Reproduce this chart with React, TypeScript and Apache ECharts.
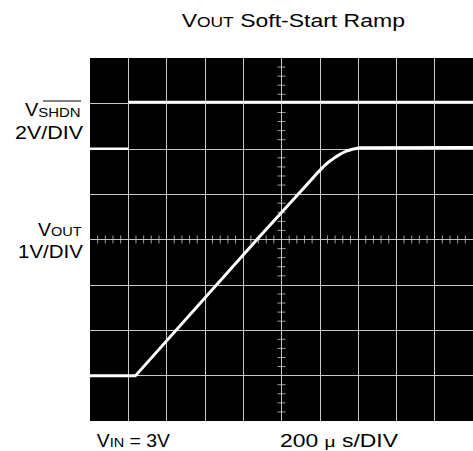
import React, { useEffect, useRef } from 'react';
import * as echarts from 'echarts';

// Oscilloscope screen in divisions: 10 horizontal (200 µs/DIV), 8 vertical
const X_MIN = -5;
const X_MAX = 5;
const Y_MIN = -4;
const Y_MAX = 4;

// VSHDN trace (2V/DIV), in divisions from screen centre ('-' = no vertical edge drawn)
const shdnX = [-5, -4, -4, -4, 5];
const shdnY: (number | string)[] = [2.0, 2.0, '-', 3.03, 3.03];

// VOUT trace (1V/DIV), in divisions from screen centre
const voutX = [-5, -3.81, -0.64, 0.79, 0.95, 1.1, 1.25, 1.4, 1.55, 1.7, 1.85, 2.05, 5.0];
const voutY = [-3.0, -3.0, 0, 1.33, 1.48, 1.61, 1.72, 1.81, 1.89, 1.95, 1.99, 2.02, 2.03];

const FONT = 'Liberation Sans';

function measure(text: string, fs: number): number {
  const c = document.createElement('canvas');
  const ctx = c.getContext('2d') as CanvasRenderingContext2D;
  ctx.font = `${fs}px "${FONT}"`;
  return ctx.measureText(text).width;
}

type Piece = { t: string; fs: number };

function label(pieces: Piece[], left: number, right: number, baseline: number): any {
  let cur = 0;
  const children: any[] = [];
  for (const p of pieces) {
    children.push({
      type: 'text',
      x: cur,
      y: -0.347 * p.fs,
      style: {
        text: p.t,
        fontSize: p.fs,
        fontFamily: FONT,
        fill: '#000',
        align: 'left',
        verticalAlign: 'middle',
        textAlign: 'left',
        textVerticalAlign: 'middle',
      },
    });
    cur += measure(p.t, p.fs);
  }
  return { type: 'group', x: left, y: baseline, scaleX: (right - left) / cur, children };
}

export default function App() {
  const ref = useRef<HTMLDivElement>(null);
  useEffect(() => {
    const chart = echarts.init(ref.current as HTMLDivElement, null, { renderer: 'svg' });

    const xTicks: number[][] = [];
    for (let k = X_MIN * 5; k <= X_MAX * 5; k++) if (k % 5 !== 0) xTicks.push([k / 5, 0]);
    const yTicks: number[][] = [];
    for (let k = Y_MIN * 5; k <= Y_MAX * 5; k++) if (k % 5 !== 0) yTicks.push([0, k / 5]);

    const gridColor = '#c8c8c8';

    chart.setOption({
      animation: false,
      backgroundColor: '#fff',
      grid: {
        left: 90,
        top: 58,
        right: 0,
        bottom: 30,
        show: true,
        backgroundColor: '#000',
        borderWidth: 0,
      },
      xAxis: {
        type: 'value',
        min: X_MIN,
        max: X_MAX,
        interval: 1,
        axisLine: { show: false },
        axisTick: { show: false },
        axisLabel: { show: false },
        splitLine: { show: true, showMinLine: false, showMaxLine: false, lineStyle: { color: gridColor, width: 1 } },
      },
      yAxis: {
        type: 'value',
        min: Y_MIN,
        max: Y_MAX,
        interval: 1,
        axisLine: { show: false },
        axisTick: { show: false },
        axisLabel: { show: false },
        splitLine: { show: true, showMinLine: false, showMaxLine: false, lineStyle: { color: gridColor, width: 1 } },
      },
      series: [
        {
          type: 'scatter',
          data: xTicks,
          symbol: 'rect',
          symbolSize: [1, 8],
          itemStyle: { color: gridColor },
          silent: true,
        },
        {
          type: 'scatter',
          data: yTicks,
          symbol: 'rect',
          symbolSize: [8, 1],
          itemStyle: { color: gridColor },
          silent: true,
        },
        {
          type: 'line',
          name: 'VSHDN',
          data: shdnX.map((x, i) => [x, shdnY[i]]),
          showSymbol: false,
          connectNulls: false,
          lineStyle: { color: '#fff', width: 2.5 },
        },
        {
          type: 'line',
          name: 'VOUT',
          data: voutX.map((x, i) => [x, voutY[i]]),
          showSymbol: false,
          lineStyle: { color: '#fff', width: 3, join: 'round' },
        },
      ],
      graphic: [
        label([{ t: 'V', fs: 18.5 }, { t: 'OUT', fs: 14 }, { t: ' Soft-Start Ramp', fs: 18.5 }], 181.7, 405, 26.7),
        label([{ t: 'V', fs: 18 }, { t: 'SHDN', fs: 13.5 }], 25, 80.7, 116.5),
        { type: 'line', shape: { x1: 43, y1: 101, x2: 81, y2: 101 }, style: { stroke: '#000', lineWidth: 1.2 } },
        label([{ t: '2V/DIV', fs: 18 }], 15, 83, 139),
        label([{ t: 'V', fs: 18 }, { t: 'OUT', fs: 13.5 }], 38, 81.7, 235.5),
        label([{ t: '1V/DIV', fs: 18 }], 18, 83, 258),
        label([{ t: 'V', fs: 18 }, { t: 'IN', fs: 13.5 }, { t: ' = 3V', fs: 18 }], 96.7, 170, 446.5),
        label([{ t: '200 ', fs: 18 }, { t: 'μ', fs: 15 }, { t: ' s/DIV', fs: 18 }], 280, 398, 446.5),
      ],
    });
    return () => chart.dispose();
  }, []);
  return (
    <div
      ref={ref}
      style={{ position: 'fixed', left: 0, top: 0, width: 473, height: 451, background: '#fff' }}
    />
  );
}
